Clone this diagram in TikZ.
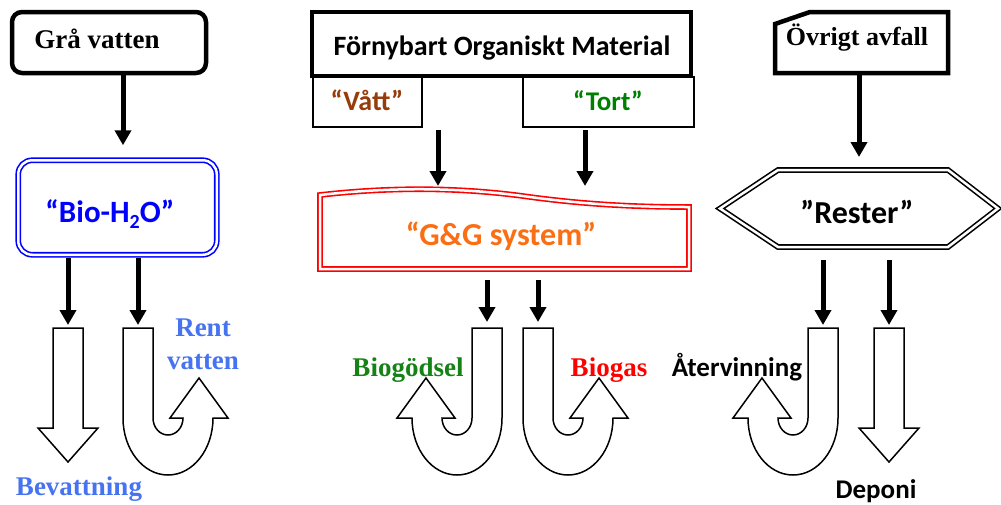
\documentclass[tikz,border=0pt]{standalone}
\usepackage{fontspec}
\setmainfont{Liberation Serif}
\newfontfamily\calfont{Carlito}
\usetikzlibrary{arrows.meta}
\definecolor{lblue}{RGB}{70,115,240}
\definecolor{brownv}{RGB}{150,60,10}
\definecolor{greent}{RGB}{0,128,0}
\definecolor{greenb}{RGB}{20,130,20}
\definecolor{orangeg}{RGB}{250,110,20}
\tikzset{
  blk/.style={draw, line width=1.5pt, fill=white, line join=miter},
  blkdown/.pic={\draw[blk] (-15,0) -- (15,0) -- (15,100) -- (30,100) -- (0,134) -- (-30,100) -- (-15,100) -- cycle;},
  uturnr/.pic={\draw[blk] (-15,0) -- (15,0) -- (15,90)
      arc[start angle=180,end angle=360,x radius=15pt,y radius=17pt]
      -- (32,90) -- (61,50) -- (90,90) -- (75,90)
      arc[start angle=0,end angle=-180,x radius=45pt,y radius=57pt] -- cycle;},
  uturnl/.pic={\draw[blk] (15,0) -- (-15,0) -- (-15,90)
      arc[start angle=0,end angle=-180,x radius=15pt,y radius=17pt]
      -- (-32,90) -- (-61,50) -- (-90,90) -- (-75,90)
      arc[start angle=180,end angle=360,x radius=45pt,y radius=57pt] -- cycle;},
}
\begin{document}
\begin{tikzpicture}[x=1pt,y=-1pt,
  thickbox/.style={draw, line width=4.5pt, outer sep=0pt, inner sep=0pt},
  thinbox/.style={draw, line width=2pt, outer sep=0pt, inner sep=0pt},
  ghost/.style={outer sep=0pt, inner sep=0pt},
  dbl/.style={line width=1.6pt, double=white, double distance=2.5pt, line join=miter},
  arr/.style={line width=5pt, -{Triangle[length=15pt,width=16pt]}},
  tnr/.style={font=\fontsize{27}{33}\selectfont\bfseries, inner sep=0pt},
  cal/.style={font=\calfont\fontsize{27}{33}\selectfont\bfseries, inner sep=0pt},
  calbig/.style={font=\calfont\fontsize{32}{38}\selectfont\bfseries, inner sep=0pt},
]
\useasboundingbox (0,0) rectangle (1001,504);

% ---------------- left column ----------------
\node[thickbox, rounded corners=10pt, minimum width=194pt, minimum height=61pt] (gra) at (109,42.5) {};
\node[tnr, anchor=base] (gratxt) at (97,48) {Grå vatten};
\node[dbl, draw=blue, rounded corners=14pt, minimum width=198.5pt, minimum height=94.5pt, outer sep=0pt, inner sep=0pt] (bio) at (117.5,207.5) {};
\node[calbig, text=blue, anchor=base, font=\calfont\fontsize{31}{37}\selectfont\bfseries] (biotxt) at (110,222) {“Bio-H\raisebox{-0.22em}{\fontsize{20}{20}\selectfont 2}O”};
\coordinate (pg) at (123,0);
\draw[arr, shorten >=15pt] (gra.south -| pg) -- (bio.north -| pg);

\coordinate (u0) at (68,328);
\coordinate (u1) at (138,328);
\pic at (u0) {blkdown};
\pic at (u1) {uturnr};
\draw[arr, shorten <=3pt, shorten >=3pt] (bio.south -| u0) -- (u0);
\draw[arr, shorten <=3pt, shorten >=3pt] (bio.south -| u1) -- (u1);
\node[tnr, text=lblue, align=center] (rent) at (203,344.5) {Rent\\vatten};
\node[tnr, text=lblue, anchor=base] (bev) at (79,495) {Bevattning};

% ---------------- middle column ----------------
\node[thinbox, minimum width=109pt, minimum height=50pt] (vatt) at (367.5,102) {};
\node[thinbox, minimum width=171pt, minimum height=50pt] (tort) at (608.5,102) {};
\node[thickbox, fill=white, minimum width=379pt, minimum height=64pt] (forn) at (501.5,44) {};
\node[cal, anchor=base, font=\calfont\fontsize{28}{34}\selectfont\bfseries] (forntxt) at (502,55) {Förnybart Organiskt Material};
\node[cal, text=brownv, anchor=base, font=\calfont\fontsize{28}{34}\selectfont\bfseries] (vatttxt) at (367,110) {“Vått”};
\node[cal, text=greent, anchor=base] (torttxt) at (608,110) {“Tort”};

\node[ghost, minimum width=369pt, minimum height=73pt] (gg) at (504.5,232.5) {};
\draw[dbl, draw=red] (320,195) .. controls (390,187) and (460,187) .. (530,197)
   .. controls (590,205) and (640,207) .. (689,207) -- (689,269) -- (320,269) -- cycle;
\node[calbig, text=orangeg, anchor=base] (ggtxt) at (501,245) {“G\&G system”};
\coordinate (pv) at (438,0);
\coordinate (pt) at (585,0);
\draw[arr, shorten <=3pt, shorten >=10pt] (vatt.south -| pv) -- (gg.north -| pv);
\draw[arr, shorten <=3pt, shorten >=10pt] (tort.south -| pt) -- (gg.north -| pt);

\coordinate (u2) at (487,328);
\coordinate (u3) at (538,328);
\pic at (u2) {uturnl};
\pic at (u3) {uturnr};
\draw[arr, shorten <=11pt, shorten >=6pt] (gg.south -| u2) -- (u2);
\draw[arr, shorten <=11pt, shorten >=6pt] (gg.south -| u3) -- (u3);
\node[tnr, text=greenb, anchor=base] (biog) at (408,376) {Biogödsel};
\node[tnr, text=red, anchor=base] (biogas) at (609,376) {Biogas};

% ---------------- right column ----------------
\node[ghost, minimum width=173pt, minimum height=61pt] (ovr) at (861.5,42.5) {};
\draw[line width=4.5pt, line join=miter] ([yshift=-12pt]ovr.north west) -- ([xshift=35pt]ovr.north west)
   -- (ovr.north east) -- (ovr.south east) -- (ovr.south west) -- cycle;
\node[tnr, anchor=base, font=\fontsize{26}{32}\selectfont\bfseries] (ovrtxt) at (857,45) {Övrigt avfall};

\node[ghost, minimum width=278pt, minimum height=77pt] (hex) at (859,208.5) {};
\draw[dbl, draw=black] (hex.west) -- ([xshift=58pt]hex.north west) -- ([xshift=-50pt]hex.north east)
   -- (hex.east) -- ([xshift=-50pt]hex.south east) -- ([xshift=58pt]hex.south west) -- cycle;
\node[calbig, anchor=base] (restxt) at (857,223) {”Rester”};
\draw[arr, shorten >=13pt] (ovr.south -| hex.north) -- (hex.north);

\coordinate (u4) at (823,328);
\coordinate (u5) at (889,328);
\pic at (u4) {uturnl};
\pic at (u5) {blkdown};
\draw[arr, shorten <=13pt, shorten >=3pt] (hex.south -| u4) -- (u4);
\draw[arr, shorten <=13pt, shorten >=3pt] (hex.south -| u5) -- (u5);
\node[cal, anchor=base] (atertxt) at (737,376) {Återvinning};
\node[cal, anchor=base] (depotxt) at (876,498) {Deponi};
\end{tikzpicture}
\end{document}
